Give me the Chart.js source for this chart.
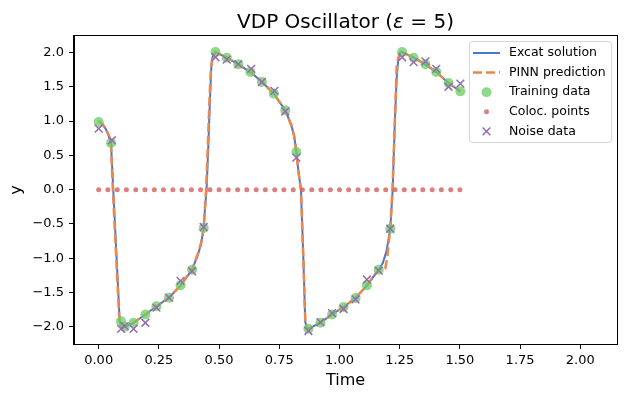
<!DOCTYPE html>
<html>
<head>
<meta charset="utf-8">
<script src="https://cdn.jsdelivr.net/npm/chart.js@4"></script>
<style>
  body { margin: 0; background: #fff; }
  canvas { display: block; }
</style>
</head>
<body>
<canvas id="vdpChart" width="626" height="398"></canvas>
<script>
// exact solution
const exactT = [0, 0.015, 0.03, 0.042, 0.051, 0.055, 0.0605, 0.0675, 0.0745, 0.0815, 0.087, 0.093, 0.1, 0.112,
    0.145, 0.194, 0.24, 0.292, 0.34, 0.388, 0.41, 0.425, 0.436, 0.441, 0.448, 0.455, 0.462, 0.468, 0.474, 0.485,
    0.532, 0.58, 0.63, 0.678, 0.727, 0.775, 0.8, 0.812, 0.821, 0.83, 0.84, 0.85, 0.858, 0.865, 0.872,
    0.921, 0.969, 1.017, 1.067, 1.114, 1.163, 1.18, 1.195, 1.211, 1.221, 1.229, 1.237, 1.244, 1.252, 1.26,
    1.308, 1.357, 1.402, 1.453, 1.502];
const exactY = [1.0, 0.96, 0.88, 0.79, 0.68, 0.4, 0.0, -0.5, -1.0, -1.5, -1.9, -1.99, -2.01, -1.99,
    -1.94, -1.82, -1.70, -1.575, -1.395, -1.166, -0.97, -0.8, -0.56, -0.3, 0.0, 0.6, 1.3, 1.8, 1.95, 2.006,
    1.924, 1.827, 1.714, 1.569, 1.40, 1.156, 0.94, 0.78, 0.548, 0.25, 0.0, -1.0, -1.93, -2.02, -2.026,
    -1.94, -1.82, -1.71, -1.58, -1.395, -1.166, -1.07, -0.9, -0.57, 0.0, 0.9, 1.6, 1.9, 2.0, 2.006,
    1.924, 1.827, 1.714, 1.554, 1.433];

// PINN prediction
const pinnT = [0, 0.015, 0.03, 0.042, 0.051, 0.054, 0.059, 0.066, 0.073, 0.08, 0.086, 0.092, 0.1, 0.112,
    0.145, 0.194, 0.24, 0.292, 0.34, 0.388, 0.41, 0.425, 0.436, 0.446, 0.453, 0.46, 0.466, 0.472, 0.485,
    0.532, 0.58, 0.63, 0.678, 0.727, 0.775, 0.8, 0.812, 0.821, 0.83, 0.84, 0.85, 0.858, 0.865, 0.872,
    0.921, 0.969, 1.017, 1.067, 1.114, 1.163, 1.19, 1.198, 1.205, 1.211, 1.22, 1.23, 1.238, 1.248, 1.26,
    1.308, 1.357, 1.402, 1.453, 1.502];
const pinnY = [1.0, 0.96, 0.88, 0.79, 0.68, 0.4, 0.0, -0.5, -1.0, -1.5, -1.9, -1.98, -2.0, -1.99,
    -1.94, -1.82, -1.70, -1.575, -1.395, -1.166, -0.95, -0.78, -0.56, 0.0, 0.6, 1.3, 1.75, 1.92, 2.006,
    1.924, 1.827, 1.714, 1.569, 1.40, 1.156, 0.94, 0.78, 0.548, 0.25, 0.0, -1.0, -1.93, -2.02, -2.026,
    -1.94, -1.82, -1.71, -1.58, -1.395, -1.166, -1.15, -1.0, -0.75, -0.55, 0.0, 1.0, 1.82, 1.97, 2.006,
    1.924, 1.827, 1.714, 1.554, 1.433];

// training data
const trainT = [0, 0.051, 0.093, 0.108, 0.145, 0.194, 0.24, 0.292, 0.34, 0.388, 0.436,
    0.485, 0.532, 0.58, 0.63, 0.678, 0.727, 0.775, 0.821,
    0.871, 0.921, 0.969, 1.017, 1.067, 1.114, 1.163, 1.211,
    1.26, 1.308, 1.357, 1.402, 1.453, 1.502];
const trainY = [0.985, 0.68, -1.92, -2.0, -1.94, -1.82, -1.70, -1.575, -1.395, -1.166, -0.56,
    2.006, 1.924, 1.827, 1.714, 1.569, 1.40, 1.156, 0.548,
    -2.026, -1.94, -1.82, -1.71, -1.58, -1.395, -1.166, -0.57,
    2.006, 1.924, 1.827, 1.714, 1.554, 1.433];

// noisy data
const noiseT = [0, 0.055, 0.093, 0.108, 0.145, 0.194, 0.24, 0.292, 0.34, 0.388, 0.436,
    0.485, 0.532, 0.58, 0.633, 0.678, 0.73, 0.775, 0.821,
    0.871, 0.921, 0.969, 1.017, 1.067, 1.114, 1.163, 1.211,
    1.26, 1.308, 1.357, 1.402, 1.453, 1.502];
const noiseY = [0.89, 0.72, -2.03, -1.99, -2.03, -1.94, -1.72, -1.575, -1.33, -1.19, -0.545,
    1.93, 1.895, 1.83, 1.76, 1.57, 1.44, 1.14, 0.466,
    -2.06, -1.93, -1.80, -1.74, -1.60, -1.31, -1.18, -0.57,
    1.93, 1.86, 1.87, 1.76, 1.50, 1.545];

// collocation points
const colocT = [0, 0.038, 0.077, 0.115, 0.154, 0.192, 0.231, 0.269, 0.308, 0.346,
    0.385, 0.423, 0.462, 0.5, 0.538, 0.577, 0.615, 0.654, 0.692, 0.731,
    0.769, 0.808, 0.846, 0.885, 0.923, 0.962, 1.0, 1.038, 1.077, 1.115,
    1.154, 1.192, 1.231, 1.269, 1.308, 1.346, 1.385, 1.423, 1.462, 1.5];
const colocY = [0, 0, 0, 0, 0, 0, 0, 0, 0, 0, 0, 0, 0, 0, 0, 0, 0, 0, 0, 0,
    0, 0, 0, 0, 0, 0, 0, 0, 0, 0, 0, 0, 0, 0, 0, 0, 0, 0, 0, 0];

const xTicks = [0, 0.25, 0.5, 0.75, 1.0, 1.25, 1.5, 1.75, 2.0];
const yTicks = [-2.0, -1.5, -1.0, -0.5, 0.0, 0.5, 1.0, 1.5, 2.0];

const FONT = "'DejaVu Sans', sans-serif";

function toPoints(xs, ys) {
    return xs.map((x, i) => ({x: x, y: ys[i]}));
}

function minusSign(s) {
    return s.replace('-', '\u2212');
}

// title with italic epsilon, like mathtext
const titlePlugin = {
    id: 'mathTitle',
    afterDraw(chart) {
        const ctx = chart.ctx;
        const area = chart.chartArea;
        const parts = [
            {t: 'VDP Oscillator (', f: '20px ' + FONT},
            {t: '\u03b5', f: 'italic 20px ' + FONT},
            {t: ' = ', f: '20px ' + FONT},
            {t: '5)', f: '20px ' + FONT}
        ];
        ctx.save();
        let total = 0;
        parts.forEach(p => { ctx.font = p.f; p.w = ctx.measureText(p.t).width; total += p.w; });
        let x = (area.left + area.right) / 2 - total / 2;
        ctx.fillStyle = '#000';
        ctx.textBaseline = 'alphabetic';
        ctx.textAlign = 'left';
        parts.forEach(p => { ctx.font = p.f; ctx.fillText(p.t, x, 28); x += p.w; });
        ctx.restore();
    }
};

// top and right spines
const framePlugin = {
    id: 'frame',
    afterDatasetsDraw(chart) {
        const ctx = chart.ctx;
        const a = chart.chartArea;
        ctx.save();
        ctx.strokeStyle = '#000';
        ctx.lineWidth = 1;
        ctx.strokeRect(a.left - 0.5, a.top - 0.5, a.right - a.left + 1, a.bottom - a.top + 1);
        ctx.restore();
    }
};

// matplotlib style legend box in upper right
const legendPlugin = {
    id: 'boxLegend',
    afterDraw(chart) {
        const ctx = chart.ctx;
        const a = chart.chartArea;
        const w = 142, h = 101;
        const bx = a.right - 6 - w, by = a.top + 5;
        ctx.save();
        ctx.globalAlpha = 0.8;
        ctx.fillStyle = '#fff';
        ctx.strokeStyle = '#ccc';
        ctx.lineWidth = 1;
        ctx.beginPath();
        ctx.roundRect(bx + 0.5, by + 0.5, w, h, 3);
        ctx.fill();
        ctx.stroke();
        ctx.globalAlpha = 1;
        const order = [4, 3, 2, 1, 0];
        order.forEach((di, row) => {
            const ds = chart.data.datasets[di];
            const cy = by + 12 + row * 19.6;
            const hx = bx + 4, hw = 27, mx = hx + hw / 2;
            if (ds.showLine) {
                ctx.strokeStyle = ds.borderColor;
                ctx.lineWidth = ds.borderWidth;
                ctx.setLineDash(ds.borderDash || []);
                ctx.beginPath();
                ctx.moveTo(hx, cy);
                ctx.lineTo(hx + hw, cy);
                ctx.stroke();
                ctx.setLineDash([]);
            } else {
                ctx.fillStyle = ds.pointBackgroundColor;
                ctx.strokeStyle = ds.pointBorderColor;
                ctx.lineWidth = ds.pointBorderWidth;
                ctx.beginPath();
                if (ds.pointStyle === 'circle') {
                    ctx.arc(mx, cy, ds.pointRadius, 0, Math.PI * 2);
                    ctx.fill();
                } else {
                    const r = ds.pointRadius * 0.707;
                    ctx.moveTo(mx - r, cy - r); ctx.lineTo(mx + r, cy + r);
                    ctx.moveTo(mx - r, cy + r); ctx.lineTo(mx + r, cy - r);
                    ctx.stroke();
                }
            }
            ctx.fillStyle = '#000';
            ctx.font = '12.5px ' + FONT;
            ctx.textBaseline = 'middle';
            ctx.textAlign = 'left';
            ctx.fillText(ds.label, bx + 40, cy);
        });
        ctx.restore();
    }
};

const ctx = document.getElementById('vdpChart').getContext('2d');
const vdpChart = new Chart(ctx, {
    type: 'scatter',
    data: {
        datasets: [{
            label: 'Noise data',
            data: toPoints(noiseT, noiseY),
            pointStyle: 'crossRot',
            pointRadius: 5.5,
            pointBorderWidth: 1.5,
            pointBorderColor: '#956CB4',
            pointBackgroundColor: '#956CB4',
            showLine: false,
            order: 0
        }, {
            label: 'Coloc. points',
            data: toPoints(colocT, colocY),
            pointStyle: 'circle',
            pointRadius: 2.5,
            pointBorderWidth: 0,
            pointBorderColor: 'rgba(214,95,95,0.8)',
            pointBackgroundColor: 'rgba(214,95,95,0.8)',
            showLine: false,
            order: 1
        }, {
            label: 'Training data',
            data: toPoints(trainT, trainY),
            pointStyle: 'circle',
            pointRadius: 5,
            pointBorderWidth: 0,
            pointBorderColor: 'rgba(106,204,100,0.75)',
            pointBackgroundColor: 'rgba(106,204,100,0.75)',
            showLine: false,
            order: 2
        }, {
            label: 'PINN prediction',
            data: toPoints(pinnT, pinnY),
            showLine: true,
            borderColor: '#EE854A',
            borderWidth: 2.5,
            borderDash: [9, 4],
            pointRadius: 0,
            tension: 0,
            order: 3
        }, {
            label: 'Excat solution',
            data: toPoints(exactT, exactY),
            showLine: true,
            borderColor: '#4878D0',
            borderWidth: 2,
            pointRadius: 0,
            tension: 0,
            order: 4
        }]
    },
    options: {
        responsive: false,
        animation: false,
        devicePixelRatio: 1,
        layout: {padding: {top: 36, right: 9, left: 0, bottom: 0}},
        plugins: {
            legend: {display: false},
            title: {display: false},
            tooltip: {enabled: false}
        },
        scales: {
            x: {
                type: 'linear',
                min: -0.1025,
                max: 2.1525,
                afterFit: s => { s.height = 54; },
                afterBuildTicks: s => { s.ticks = xTicks.map(v => ({value: v})); },
                ticks: {
                    font: {family: FONT, size: 13},
                    color: '#000',
                    padding: 4,
                    maxRotation: 0,
                    autoSkip: false,
                    callback: v => minusSign(v.toFixed(2))
                },
                grid: {drawOnChartArea: false, tickLength: 5, tickColor: '#000', tickWidth: 1},
                border: {color: '#000', width: 1},
                title: {display: true, text: 'Time', color: '#000',
                    font: {family: FONT, size: 16}, padding: {top: 0, bottom: 8}}
            },
            y: {
                type: 'linear',
                min: -2.25,
                max: 2.24,
                afterFit: s => { s.width = 74; },
                afterBuildTicks: s => { s.ticks = yTicks.map(v => ({value: v})); },
                ticks: {
                    font: {family: FONT, size: 13},
                    color: '#000',
                    padding: 5,
                    autoSkip: false,
                    callback: v => minusSign(v.toFixed(1))
                },
                grid: {drawOnChartArea: false, tickLength: 5, tickColor: '#000', tickWidth: 1},
                border: {color: '#000', width: 1},
                title: {display: true, text: 'y', color: '#000',
                    font: {family: FONT, size: 16}, padding: {top: 7, bottom: 0}}
            }
        }
    },
    plugins: [framePlugin, titlePlugin, legendPlugin]
});
</script>
</body>
</html>
